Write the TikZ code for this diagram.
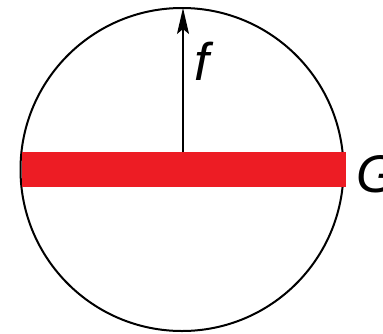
\documentclass[tikz,border=0pt]{standalone}
\usepackage{fontspec}
\setmainfont{Liberation Sans}
\usepackage{xcolor}
\usetikzlibrary{arrows.meta}
\definecolor{barred}{HTML}{ED1C24}

\begin{document}
\begin{tikzpicture}[x=1pt, y=-1pt]
    \useasboundingbox (0,0) rectangle (383,333);
    % Đường tròn
    \coordinate (O) at (182,169.5);
    \draw[line width=2pt] (O) circle[radius=161.5pt];

    % Thanh màu đỏ
    \fill[barred] (22,152) rectangle (346,187);

    % Mũi tên f
    \coordinate (bartop) at (183,152);
    \coordinate (top) at (183,8);
    \draw[-{Stealth[length=26pt, width=12pt, inset=5pt]}, line width=1.4pt] (bartop) -- (top);
    \node[anchor=base west, inner sep=0pt, font=\fontsize{53}{60}\selectfont\itshape] (f) at (194,80) {f};
    \node[anchor=base west, inner sep=0pt, font=\fontsize{53}{60}\selectfont\itshape] (G) at (356,192) {G};
\end{tikzpicture}
\end{document}
